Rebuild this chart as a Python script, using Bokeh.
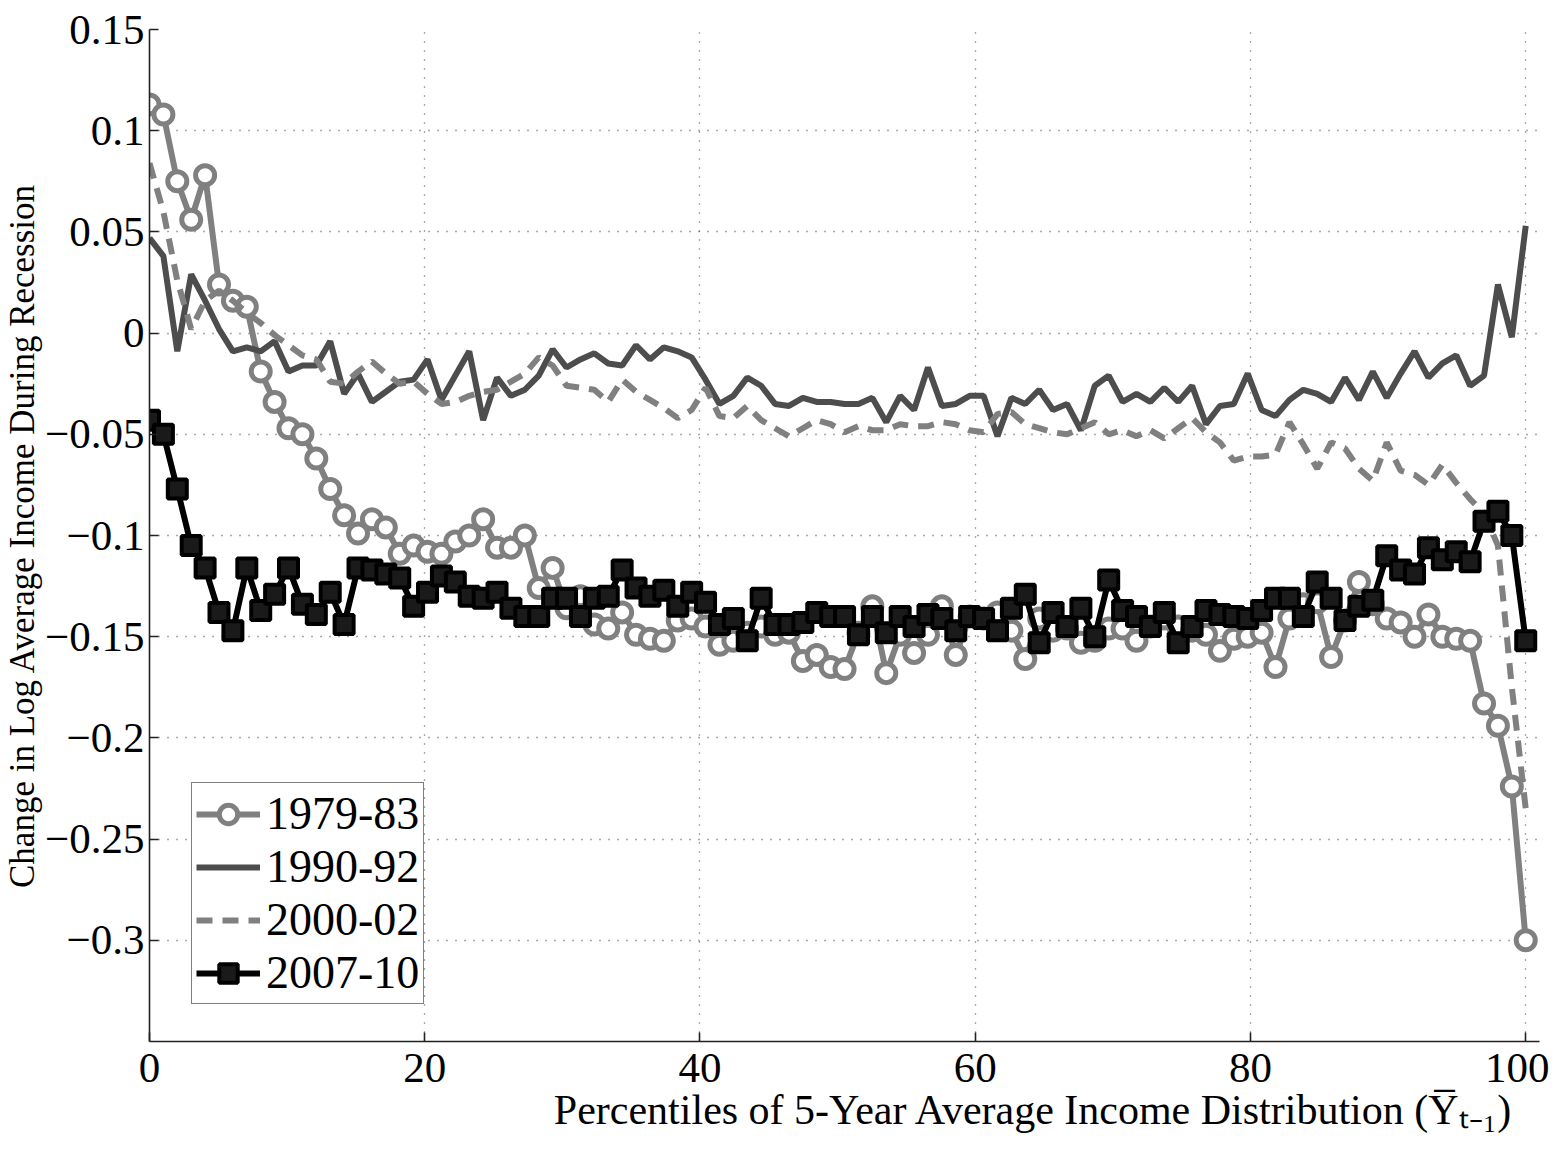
from bokeh.plotting import figure
from bokeh.models import Range1d, FixedTicker, Legend, LegendItem, Title
from bokeh.embed import file_html
from bokeh.resources import INLINE

# ---------------- data ----------------
percentiles = [k * 100 / 99 for k in range(100)]

s1979_83 = [
    0.113, 0.108, 0.075, 0.056, 0.078, 0.024, 0.016, 0.013, -0.019, -0.034,
    -0.047, -0.050, -0.062, -0.077, -0.090, -0.099, -0.092, -0.096, -0.109, -0.105,
    -0.108, -0.109, -0.103, -0.100, -0.092, -0.106, -0.106, -0.100, -0.126, -0.116,
    -0.136, -0.130, -0.144, -0.146, -0.138, -0.149, -0.151, -0.152, -0.142, -0.141,
    -0.145, -0.154, -0.152, -0.148, -0.145, -0.149, -0.148, -0.162, -0.159, -0.165,
    -0.166, -0.148, -0.135, -0.168, -0.149, -0.158, -0.149, -0.135, -0.159, -0.140,
    -0.141, -0.138, -0.147, -0.161, -0.141, -0.147, -0.146, -0.153, -0.152, -0.146,
    -0.146, -0.152, -0.145, -0.141, -0.145, -0.147, -0.149, -0.157, -0.151, -0.150,
    -0.148, -0.165, -0.141, -0.134, -0.133, -0.160, -0.142, -0.123, -0.134, -0.141,
    -0.143, -0.150, -0.139, -0.150, -0.151, -0.152, -0.183, -0.194, -0.224, -0.300,
]

s1990_92 = [
    0.047, 0.038, -0.009, 0.029, 0.016, 0.002, -0.009, -0.007, -0.009, -0.004,
    -0.019, -0.016, -0.016, -0.004, -0.030, -0.020, -0.034, -0.029, -0.024, -0.023,
    -0.013, -0.033, -0.021, -0.009, -0.043, -0.022, -0.031, -0.028, -0.021, -0.008,
    -0.017, -0.013, -0.010, -0.015, -0.016, -0.006, -0.013, -0.007, -0.009, -0.012,
    -0.023, -0.035, -0.031, -0.022, -0.026, -0.035, -0.036, -0.032, -0.034, -0.034,
    -0.035, -0.035, -0.032, -0.044, -0.031, -0.038, -0.017, -0.036, -0.035, -0.031,
    -0.031, -0.051, -0.032, -0.035, -0.028, -0.038, -0.035, -0.048, -0.026, -0.021,
    -0.034, -0.030, -0.034, -0.027, -0.034, -0.026, -0.045, -0.036, -0.035, -0.020,
    -0.038, -0.041, -0.033, -0.028, -0.030, -0.034, -0.022, -0.033, -0.019, -0.032,
    -0.020, -0.009, -0.022, -0.015, -0.011, -0.026, -0.021, 0.024, -0.002, 0.053,
]

s2000_02 = [
    0.084, 0.060, 0.026, 0.002, 0.016, 0.021, 0.016, 0.010, 0.005, -0.001,
    -0.006, -0.011, -0.013, -0.024, -0.025, -0.019, -0.014, -0.020, -0.025, -0.024,
    -0.030, -0.035, -0.034, -0.031, -0.029, -0.028, -0.024, -0.020, -0.012, -0.016,
    -0.026, -0.027, -0.028, -0.034, -0.023, -0.029, -0.033, -0.037, -0.042, -0.038,
    -0.027, -0.041, -0.042, -0.036, -0.043, -0.047, -0.051, -0.047, -0.043, -0.045,
    -0.049, -0.046, -0.048, -0.048, -0.045, -0.046, -0.046, -0.044, -0.045, -0.048,
    -0.049, -0.040, -0.039, -0.045, -0.047, -0.049, -0.050, -0.047, -0.044, -0.050,
    -0.048, -0.051, -0.048, -0.052, -0.047, -0.042, -0.049, -0.054, -0.063, -0.061,
    -0.061, -0.060, -0.044, -0.055, -0.067, -0.054, -0.057, -0.067, -0.073, -0.054,
    -0.068, -0.070, -0.075, -0.065, -0.074, -0.082, -0.089, -0.105, -0.175, -0.235,
]

s2007_10 = [
    -0.043, -0.050, -0.077, -0.105, -0.116, -0.138, -0.147, -0.116, -0.137, -0.129,
    -0.116, -0.134, -0.139, -0.128, -0.144, -0.116, -0.117, -0.119, -0.121, -0.135,
    -0.128, -0.120, -0.123, -0.130, -0.131, -0.128, -0.136, -0.140, -0.140, -0.131,
    -0.131, -0.140, -0.131, -0.130, -0.117, -0.126, -0.130, -0.127, -0.135, -0.128,
    -0.133, -0.144, -0.141, -0.152, -0.131, -0.144, -0.144, -0.143, -0.138, -0.140,
    -0.140, -0.149, -0.140, -0.148, -0.140, -0.145, -0.139, -0.141, -0.147, -0.140,
    -0.141, -0.147, -0.136, -0.129, -0.153, -0.138, -0.145, -0.136, -0.150, -0.122,
    -0.137, -0.140, -0.145, -0.138, -0.153, -0.145, -0.137, -0.139, -0.140, -0.141,
    -0.137, -0.131, -0.131, -0.140, -0.123, -0.131, -0.142, -0.135, -0.132, -0.110,
    -0.117, -0.119, -0.106, -0.112, -0.108, -0.113, -0.093, -0.088, -0.100, -0.152,
]

series_names = ["1979-83", "1990-92", "2000-02", "2007-10"]

xtick_values = [0, 20, 40, 60, 80, 100]
xtick_labels = ["0", "20", "40", "60", "80", "100"]
ytick_values = [-0.3, -0.25, -0.2, -0.15, -0.1, -0.05, 0, 0.05, 0.1, 0.15]
ytick_labels = ["\u22120.3", "\u22120.25", "\u22120.2", "\u22120.15", "\u22120.1",
                "\u22120.05", "0", "0.05", "0.1", "0.15"]

y_title = "Change in Log Average Income During Recession"
x_title = "Percentiles of 5-Year Average Income Distribution (Y\u0305\u209c\u208b\u2081)"

# ---------------- figure ----------------
FONT = "Liberation Serif"

p = figure(frame_width=1390, frame_height=1012,
           x_range=Range1d(0, 101), y_range=Range1d(-0.35, 0.15),
           output_backend="svg", toolbar_location=None,
           min_border_left=140, min_border_right=10,
           min_border_top=29, min_border_bottom=96)
p.outline_line_color = None
p.background_fill_color = "white"
p.border_fill_color = "white"

# axes
for ax in (p.xaxis, p.yaxis):
    ax.axis_line_color = "#222222"
    ax.axis_line_width = 1.6
    ax.major_tick_line_color = "#222222"
    ax.major_tick_line_width = 1.6
    ax.major_tick_in = 9
    ax.major_tick_out = 0
    ax.minor_tick_line_color = None
    ax.major_label_text_font = FONT
    ax.major_label_text_font_size = "43px"
    ax.major_label_text_color = "black"

p.xaxis.ticker = FixedTicker(ticks=xtick_values)
p.yaxis.ticker = FixedTicker(ticks=ytick_values)
p.xaxis.major_label_overrides = {v: l for v, l in zip(xtick_values, xtick_labels)}
p.yaxis.major_label_overrides = {v: l for v, l in zip(ytick_values, ytick_labels)}
p.xaxis.major_label_standoff = 12
p.yaxis.major_label_standoff = 5

# axis titles
ytitle = Title(text=y_title, align="center", text_font=FONT, text_font_size="35px",
               text_font_style="normal", text_color="black", standoff=0, offset=0)
p.add_layout(ytitle, "left")
xtitle = Title(text=x_title, align="right", text_font=FONT, text_font_size="42px",
               text_font_style="normal", text_color="black", standoff=0, offset=26)
p.add_layout(xtitle, "below")

# grid
p.xgrid.ticker = FixedTicker(ticks=xtick_values)
p.ygrid.ticker = FixedTicker(ticks=ytick_values)
for g in (p.xgrid, p.ygrid):
    g.grid_line_color = "#555555"
    g.grid_line_width = 1.3
    g.grid_line_dash = "1 8"

# series
r1_line = p.line(percentiles, s1979_83, line_color="#808080", line_width=6)
r1_mark = p.scatter(percentiles, s1979_83, marker="circle", size=19,
                    line_color="#808080", line_width=5, fill_color="white")
r2_line = p.line(percentiles, s1990_92, line_color="#4d4d4d", line_width=6)
r3_line = p.line(percentiles, s2000_02, line_color="#808080", line_width=6,
                 line_dash="16 10")
r4_line = p.line(percentiles, s2007_10, line_color="black", line_width=6)
r4_mark = p.scatter(percentiles, s2007_10, marker="square", size=19,
                    line_color="black", line_width=4, fill_color="#1a1a1a")

legend = Legend(items=[
    LegendItem(label=series_names[0], renderers=[r1_line, r1_mark]),
    LegendItem(label=series_names[1], renderers=[r2_line]),
    LegendItem(label=series_names[2], renderers=[r3_line]),
    LegendItem(label=series_names[3], renderers=[r4_line, r4_mark]),
])
legend.location = (42, 37)
legend.label_text_font = FONT
legend.label_text_font_size = "46px"
legend.label_text_color = "black"
legend.glyph_width = 64
legend.glyph_height = 46
legend.label_height = 46
legend.label_standoff = 6
legend.spacing = 0
legend.padding = 4
legend.margin = 0
legend.border_line_color = "black"
legend.border_line_width = 1.5
legend.background_fill_color = "white"
legend.background_fill_alpha = 1.0
p.add_layout(legend)

open("out.html", "w").write(file_html(p, INLINE))
